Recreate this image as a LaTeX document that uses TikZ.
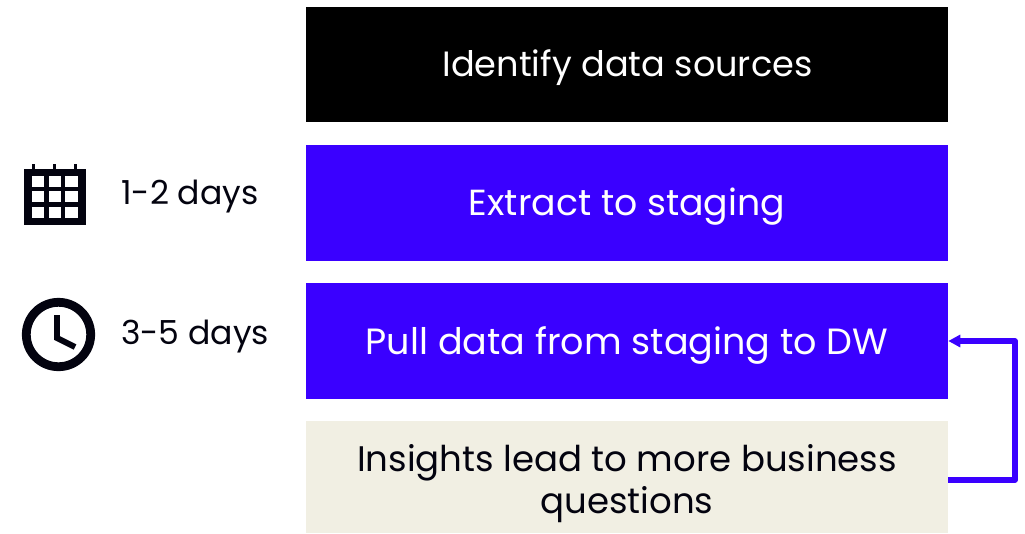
\documentclass[tikz,border=0pt]{standalone}
\usepackage{fontspec}
\setmainfont{Poppins}
\usetikzlibrary{arrows.meta}
\definecolor{vio}{HTML}{3A00FF}
\definecolor{sand}{HTML}{F1EFE3}
\definecolor{ink}{HTML}{03030F}
\tikzset{
  x=0.75pt,y=-0.75pt,
  panel/.style={minimum width=481.5pt,inner sep=0pt,draw=none},
  boxtext/.style={inner sep=0pt,align=center,font=\fontsize{26.65}{31.5}\selectfont},
  lab/.style={anchor=west,inner sep=0pt,text=ink,font=\fontsize{24.8}{30}\selectfont},
  feedback/.style={draw=vio,line width=4.2pt,line join=round,-{Triangle[length=9pt,width=9pt]}},
}
\begin{document}
\begin{tikzpicture}
\useasboundingbox (0,0) rectangle (1025,533);
\node[panel,minimum height=86.25pt,fill=black] (a) at (627,64.5) {};
\node[panel,minimum height=87pt,fill=vio] (b) at (627,203) {};
\node[panel,minimum height=87pt,fill=vio] (c) at (627,341) {};
\node[panel,minimum height=84pt,fill=sand] (d) at (627,477) {};
\node[boxtext,text=white] (ta) at (627.5,68) {\fontsize{26.35}{31.5}\selectfont Identify data sources};
\node[boxtext,text=white] (tb) at (627,207) {\fontsize{27.2}{31.5}\selectfont Extract to staging};
\node[boxtext,text=white] (tc) at (627,345.5) {\fontsize{27.4}{31.5}\selectfont Pull data from staging to DW};
\node[boxtext,text=ink] (td) at (627,484) {Insights lead to more business\\questions};
\node[lab] (t1) at (121,197) {1-2 days};
\node[lab] (t2) at (121,337) {3-5 days};
% calendar icon
\fill[ink] (24,169) rectangle (85.7,225);
\foreach \cx in {33.3,54.3,75.7} \fill[ink] (\cx-1.6,164) rectangle (\cx+1.6,170);
\foreach \xa/\xb in {32.3/44.3,49/61,65.3/77.7}
  \foreach \ya/\yb in {175.7/186.7,190.7/202.3,206.7/217.7}
    \fill[white] (\xa,\ya) rectangle (\xb,\yb);
% clock icon
\draw[ink,line width=6.6pt] (58.5,334.5) circle [radius=32.2];
\draw[ink,line width=4.4pt,line join=miter] (57,315) -- (57,338) -- (75,347);
% feedback connector
\coordinate (bend1) at (1015,480);
\coordinate (bend2) at (1015,341);
\draw[feedback] ([yshift=-2.25pt]d.east) -- (bend1) -- (bend2) -- (c.east);
\end{tikzpicture}
\end{document}
